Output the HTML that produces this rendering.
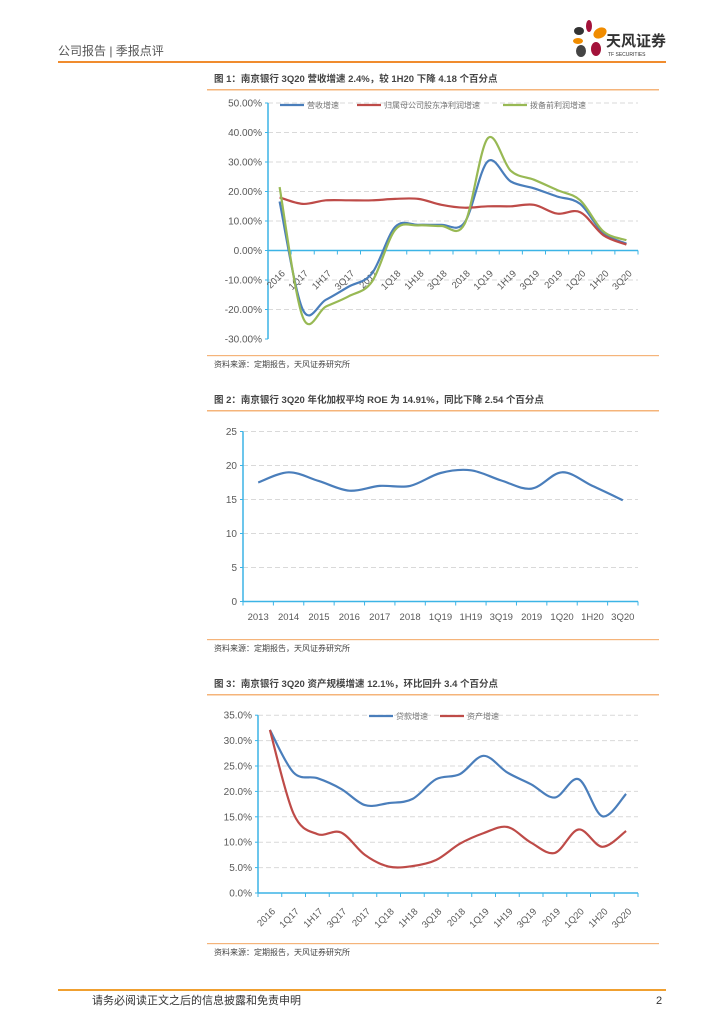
<!DOCTYPE html>
<html><head><meta charset="utf-8"><style>
html,body{margin:0;padding:0;background:#fff;}
svg{display:block;font-family:"Liberation Sans","Noto Sans CJK SC",sans-serif;}
</style></head><body>
<svg id="s" width="724" height="1024" viewBox="0 0 724 1024" xmlns="http://www.w3.org/2000/svg">
<g>
<text x="58" y="55" font-size="12" fill="#555">公司报告 | 季报点评</text>
<g>
<ellipse cx="579" cy="31" rx="5" ry="4" fill="#333"/>
<ellipse cx="589" cy="26" rx="3" ry="6" fill="#a3123a"/>
<ellipse cx="600" cy="33" rx="7" ry="5" fill="#f08c00" transform="rotate(-30 600 33)"/>
<ellipse cx="578" cy="41" rx="5" ry="3" fill="#f08c00"/>
<ellipse cx="581" cy="51" rx="5" ry="6" fill="#444"/>
<ellipse cx="596" cy="49" rx="5" ry="7" fill="#a3123a"/>
<text x="606" y="46" font-size="15" font-weight="bold" fill="#333">天风证券</text>
<text x="608" y="56" font-size="5" fill="#333">TF SECURITIES</text>
</g>
<rect x="58" y="61" width="608" height="2" fill="#f08c2e"/>
</g>
<g id="c1"></g>
<g id="c2"></g>
<g id="c3"></g>
<g>
<rect x="58" y="989" width="608" height="2" fill="#f0a030"/>
<text x="92" y="1004" font-size="11" fill="#333">请务必阅读正文之后的信息披露和免责申明</text>
<text x="656" y="1004" font-size="11" fill="#333">2</text>
</g>
</svg>
<script>
const cats1 = ["2016","1Q17","1H17","3Q17","2017","1Q18","1H18","3Q18","2018","1Q19","1H19","3Q19","2019","1Q20","1H20","3Q20"];
const revenueGrowth = [16.6,-20.0,-16.7,-12.2,-7.7,8.0,8.7,8.7,9.5,30.2,23.4,21.1,18.3,15.8,5.9,2.3];
const profitGrowth = [18.0,15.8,17.0,17.0,17.0,17.5,17.5,15.5,14.5,15.0,15.0,15.5,12.5,13.0,5.2,2.0];
const pppGrowth = [21.5,-22.5,-19.0,-15.5,-10.5,7.0,8.5,8.3,9.0,38.0,27.0,24.0,20.5,17.0,6.5,3.5];
const ticks1 = ["50.00%","40.00%","30.00%","20.00%","10.00%","0.00%","-10.00%","-20.00%","-30.00%"];
const cats2 = ["2013","2014","2015","2016","2017","2018","1Q19","1H19","3Q19","2019","1Q20","1H20","3Q20"];
const roeValues = [17.5,19.0,17.7,16.3,17.0,17.0,18.9,19.3,17.8,16.6,19.0,17.0,14.9];
const ticks2 = ["25","20","15","10","5","0"];
const cats3 = cats1.slice();
const loanGrowth = [32.1,23.7,22.6,20.5,17.3,17.7,18.5,22.4,23.4,27.0,23.7,21.4,18.8,22.4,15.1,19.5];
const assetGrowth = [32.1,15.6,11.6,11.9,7.5,5.2,5.3,6.5,9.7,11.8,13.0,9.9,7.9,12.5,9.1,12.2];
const ticks3 = ["35.0%","30.0%","25.0%","20.0%","15.0%","10.0%","5.0%","0.0%"];

const NS="http://www.w3.org/2000/svg";
function mk(parent,tag,attrs,txt){const e=document.createElementNS(NS,tag);for(const k in attrs)e.setAttribute(k,attrs[k]);if(txt!==undefined)e.textContent=txt;parent.appendChild(e);return e;}
function smooth(pts){let d="M"+pts[0][0].toFixed(1)+","+pts[0][1].toFixed(1);for(let i=0;i<pts.length-1;i++){const p0=pts[i-1]||pts[i],p1=pts[i],p2=pts[i+1],p3=pts[i+2]||p2;const c1=[p1[0]+(p2[0]-p0[0])/6,p1[1]+(p2[1]-p0[1])/6],c2=[p2[0]-(p3[0]-p1[0])/6,p2[1]-(p3[1]-p1[1])/6];d+=" C"+c1[0].toFixed(1)+","+c1[1].toFixed(1)+" "+c2[0].toFixed(1)+","+c2[1].toFixed(1)+" "+p2[0].toFixed(1)+","+p2[1].toFixed(1);}return d;}

function chart(g,o){
  const t=mk(g,"text",{x:214,y:o.titleY,"font-size":"9.5","font-weight":"bold",fill:"#444"},o.title);
  
  
  mk(g,"rect",{x:207,y:o.titleY+7,width:452,height:1.5,fill:"#f5b47a"});
  mk(g,"rect",{x:207,y:o.srcY-12,width:452,height:1.2,fill:"#f5b47a"});
  const s=mk(g,"text",{x:214,y:o.srcY,"font-size":"8",fill:"#444"},"资料来源：定期报告，天风证券研究所");
  
  
  const yv=v=>o.yZero-(v)*(o.yPx);
  const band=(o.x1-o.x0)/o.cats.length;
  const xv=i=>o.x0+band*(i+0.5);
  o.ticks.forEach((lab,i)=>{
    const v=o.tmax-i*o.tstep; const y=yv(v);
    if(v!==o.tmin && !(o.zeroAxis&&v===0)) mk(g,"line",{x1:o.x0,x2:o.x1,y1:y,y2:y,stroke:"#d9d9d9","stroke-dasharray":"5,3","stroke-width":1});
    mk(g,"line",{x1:o.x0-3,x2:o.x0,y1:y,y2:y,stroke:"#3cb4e6"});
    const tl=mk(g,"text",{x:o.x0-6,y:y+3.5,"font-size":"10","text-anchor":"end",fill:"#595959"},lab);
    
    
  });
  const axY=o.zeroAxis?yv(0):yv(o.tmin);
  mk(g,"line",{x1:o.x0,x2:o.x0,y1:yv(o.tmax),y2:yv(o.tmin),stroke:"#3cb4e6","stroke-width":1.5});
  mk(g,"line",{x1:o.x0,x2:o.x1,y1:axY,y2:axY,stroke:"#3cb4e6","stroke-width":1.5});
  for(let i=0;i<=o.cats.length;i++){const x=o.x0+band*i;mk(g,"line",{x1:x,x2:x,y1:axY,y2:axY+4,stroke:"#3cb4e6"});}
  o.cats.forEach((c,i)=>{
    const x=xv(i);
    let el;
    if(o.rot){const ly=o.labY;el=mk(g,"text",{x:x+6,y:ly,"font-size":"9.5","text-anchor":"end",fill:"#595959",transform:"rotate(-45 "+(x+6)+" "+ly+")"},c);}
    else el=mk(g,"text",{x:x,y:o.labY,"font-size":"9.5","text-anchor":"middle",fill:"#595959"},c);
    
    
  });
  o.series.forEach(sr=>{
    const p=mk(g,"path",{d:smooth(sr.data.map((v,i)=>[xv(i),yv(v)])),fill:"none",stroke:sr.color,"stroke-width":2.2});
    
    
  });
  (o.legend||[]).forEach(l=>{
    const lg=mk(g,"g",{});
    
    
    mk(lg,"line",{x1:l.x,x2:l.x+24,y1:o.legY,y2:o.legY,stroke:l.color,"stroke-width":2.2});
    mk(lg,"text",{x:l.x+27,y:o.legY+3,"font-size":"8",fill:"#777"},l.label);
  });
}
chart(document.getElementById('c1'),{title:"图 1：南京银行 3Q20 营收增速 2.4%，较 1H20 下降 4.18 个百分点",titleY:82,srcY:367,
  x0:268,x1:638,yZero:250.5,yPx:2.95,tmax:50,tmin:-30,tstep:10,ticks:ticks1,zeroAxis:true,cats:cats1,rot:true,labY:274,
  series:[{name:"revenue-growth-line",data:revenueGrowth,color:"#4a7ebb"},{name:"profit-growth-line",data:profitGrowth,color:"#be4b48"},{name:"ppp-growth-line",data:pppGrowth,color:"#98b954"}],
  legY:105,legend:[{x:280,color:"#4a7ebb",label:"营收增速"},{x:357,color:"#be4b48",label:"归属母公司股东净利润增速"},{x:503,color:"#98b954",label:"拨备前利润增速"}]});
chart(document.getElementById('c2'),{title:"图 2：南京银行 3Q20 年化加权平均 ROE 为 14.91%，同比下降 2.54 个百分点",titleY:403,srcY:651,
  x0:243,x1:638,yZero:601.5,yPx:6.8,tmax:25,tmin:0,tstep:5,ticks:ticks2,zeroAxis:false,cats:cats2,rot:false,labY:620,
  series:[{name:"roe-line",data:roeValues,color:"#4a7ebb"}]});
chart(document.getElementById('c3'),{title:"图 3：南京银行 3Q20 资产规模增速 12.1%，环比回升 3.4 个百分点",titleY:687,srcY:955,
  x0:258,x1:638,yZero:893,yPx:5.08,tmax:35,tmin:0,tstep:5,ticks:ticks3,zeroAxis:false,cats:cats3,rot:true,labY:912,
  series:[{name:"loan-growth-line",data:loanGrowth,color:"#4a7ebb"},{name:"asset-growth-line",data:assetGrowth,color:"#be4b48"}],
  legY:716,legend:[{x:369,color:"#4a7ebb",label:"贷款增速"},{x:440,color:"#be4b48",label:"资产增速"}]});
</script>
</body></html>
